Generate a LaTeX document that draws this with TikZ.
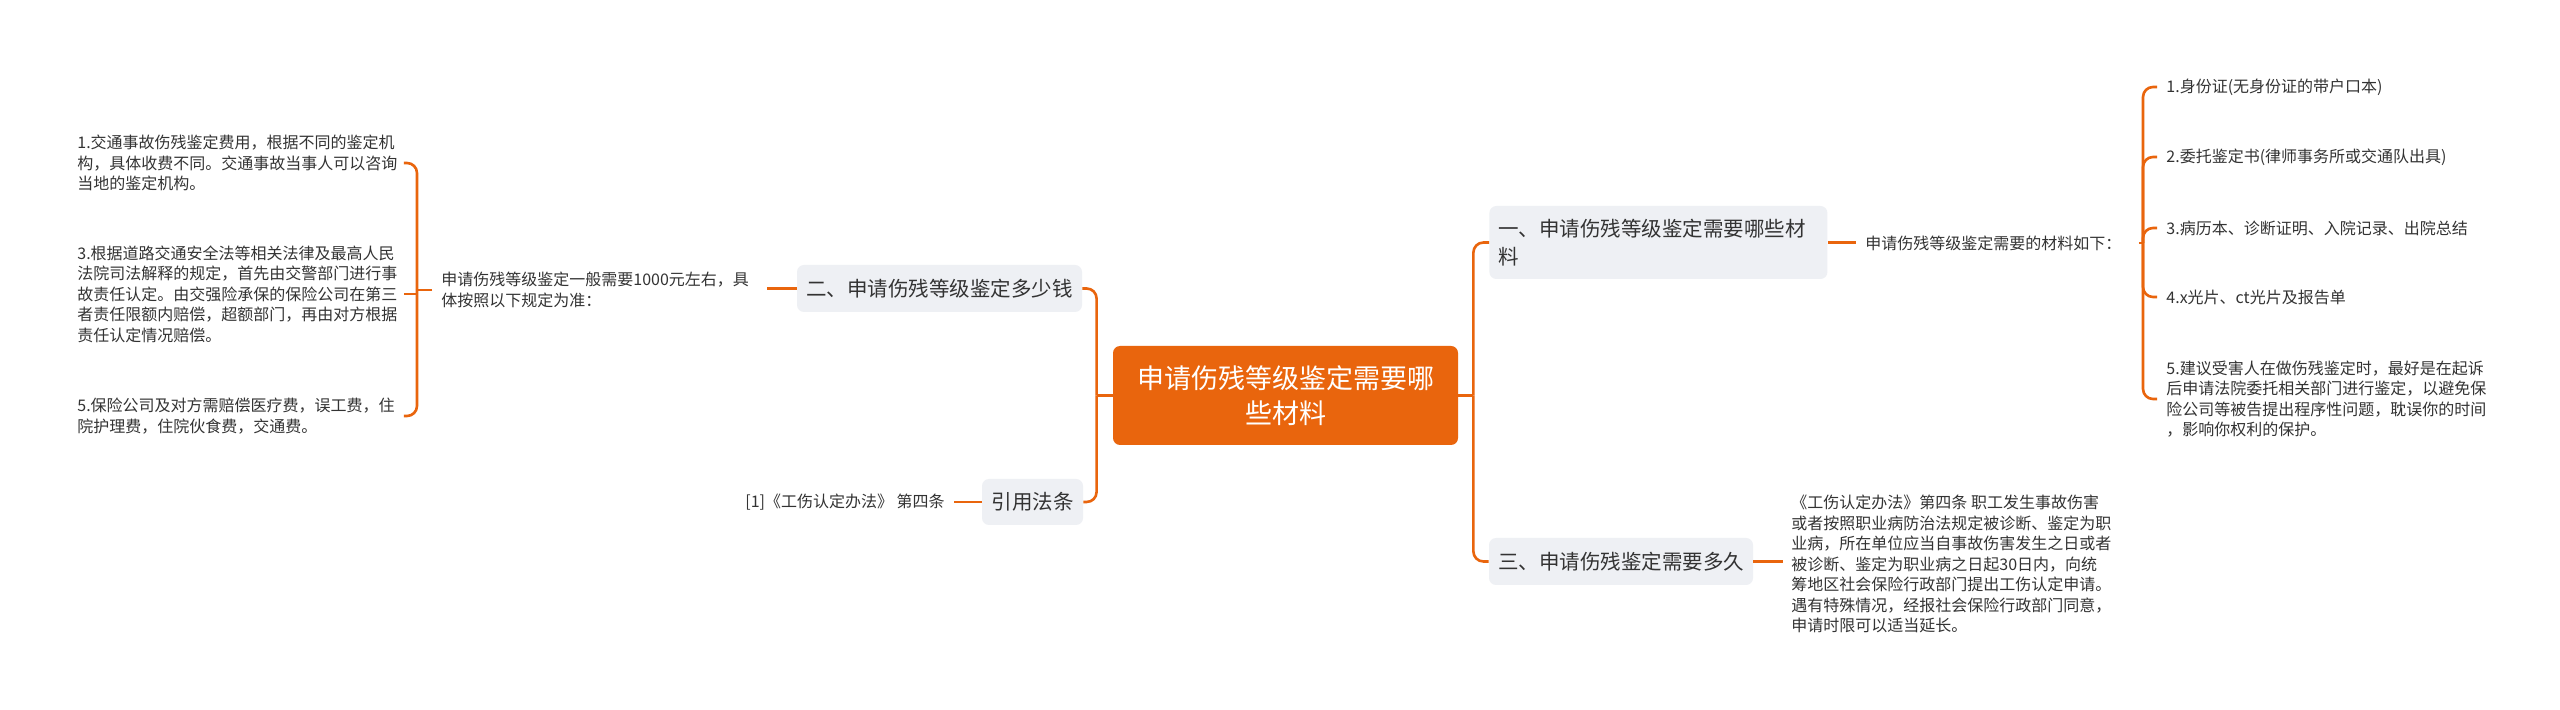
\documentclass[tikz,border=0pt]{standalone}
\usepackage{fontspec}
\setmainfont{Noto Sans CJK SC}
\definecolor{mmorange}{HTML}{E9650D}
\definecolor{mmgray}{HTML}{EEF0F4}
\definecolor{mmtext}{HTML}{333333}
\tikzset{
  conn/.style={draw=mmorange, line width=1.3pt},
  small/.style={font=\fontsize{8}{10.25}\selectfont, text=mmtext, inner sep=0pt, align=left},
  gbox/.style={fill=mmgray, rounded corners=3.5pt, inner sep=0pt, text=mmtext, font=\fontsize{10.25}{14}\selectfont},
  cbox/.style={fill=mmorange, rounded corners=3.5pt, text=white, font=\fontsize{13.5}{17.5}\selectfont, align=center, inner sep=0pt, minimum width=172.5pt, minimum height=49.5pt},
}
\begin{document}
\begin{tikzpicture}[x=0.5pt,y=-0.5pt]
\fill[white] (0,0) rectangle (2560,710);
\useasboundingbox (0,0) rectangle (2560,710);

% center
\node[cbox] (C) at (1285.5,395.5) {申请伤残等级鉴定需要哪\\些材料};

% left branches
\node[gbox, minimum width=142.5pt, minimum height=23.5pt] (Q2) at (939.5,288.5) {二、申请伤残等级鉴定多少钱};
\node[gbox, minimum width=50.5pt, minimum height=23pt] (Cite) at (1032.5,502) {引用法条};
\node[small, anchor=west] (Lp) at (441,290) {申请伤残等级鉴定一般需要1000元左右，具\\体按照以下规定为准：};
\node[small, anchor=west] (Lref) at (745,502) {[1]《工伤认定办法》 第四条};
\node[small, anchor=west, text width=160pt] (L1) at (77,163) {1.交通事故伤残鉴定费用，根据不同的鉴定机\\构，具体收费不同。交通事故当事人可以咨询\\当地的鉴定机构。};
\node[small, anchor=west, text width=160pt] (L3) at (77,294) {3.根据道路交通安全法等相关法律及最高人民\\法院司法解释的规定，首先由交警部门进行事\\故责任认定。由交强险承保的保险公司在第三\\者责任限额内赔偿，超额部门，再由对方根据\\责任认定情况赔偿。};
\node[small, anchor=west, text width=160pt] (L5) at (77,416) {5.保险公司及对方需赔偿医疗费，误工费，住\\院护理费，住院伙食费，交通费。};

% right branches
\node[gbox, anchor=west, text width=160pt, inner xsep=4.5pt, minimum height=36.5pt, align=left] (Q1) at (1489,242.5) {一、申请伤残等级鉴定需要哪些材\\料};
\node[gbox, minimum width=132pt, minimum height=23.5pt] (Q3) at (1621,561.5) {三、申请伤残鉴定需要多久};
\node[small, anchor=west] (Rmat) at (1865,243) {申请伤残等级鉴定需要的材料如下：};
\node[small, anchor=west] (R1) at (2166,87) {1.身份证(无身份证的带户口本)};
\node[small, anchor=west] (R2) at (2166,157) {2.委托鉴定书(律师事务所或交通队出具)};
\node[small, anchor=west] (R3) at (2166,228) {3.病历本、诊断证明、入院记录、出院总结};
\node[small, anchor=west] (R4) at (2166,297) {4.x光片、ct光片及报告单};
\node[small, anchor=west] (R5) at (2166,399) {5.建议受害人在做伤残鉴定时，最好是在起诉\\后申请法院委托相关部门进行鉴定，以避免保\\险公司等被告提出程序性问题，耽误你的时间\\，影响你权利的保护。};
\node[small, anchor=west] (Rlaw) at (1791,564) {《工伤认定办法》第四条 职工发生事故伤害\\或者按照职业病防治法规定被诊断、鉴定为职\\业病，所在单位应当自事故伤害发生之日或者\\被诊断、鉴定为职业病之日起30日内，向统\\筹地区社会保险行政部门提出工伤认定申请。\\遇有特殊情况，经报社会保险行政部门同意，\\申请时限可以适当延长。};

% trunks
\coordinate (lt) at ([xshift=-8pt]C.west);
\draw[conn] (C.west) -- (lt);
\draw[conn, rounded corners=5pt] (lt) |- (Q2.east);
\draw[conn, rounded corners=5pt] (lt) |- (Cite.east);
\coordinate (rt) at ([xshift=7.5pt]C.east);
\draw[conn] (C.east) -- (rt);
\draw[conn, rounded corners=5pt] (rt) |- (Q1.west);
\draw[conn, rounded corners=5pt] (rt) |- (Q3.west);

% left side
\draw[conn, shorten >=9pt] (Q2.west) -- (Q2.west -| Lp.east);
\draw[conn, shorten >=4.5pt] (Cite.west) -- (Cite.west -| Lref.east);
\coordinate (lb) at ([xshift=-12pt]Lp.west);
\draw[conn, shorten <=4.5pt] (Lp.west) -- (lb);
\draw[conn, rounded corners=5pt, shorten >=3pt] (lb) |- (L1.east);
\draw[conn, shorten >=3pt] (lb) |- (L3.east);
\draw[conn, rounded corners=5pt, shorten >=3pt] (lb) |- (L5.east);

% right side
\draw[conn, shorten >=4.5pt] (Q1.east) -- (Q1.east -| Rmat.west);
\path (R1.west |- Rmat.east) ++(-11.5pt,0) coordinate (rb);
\draw[conn, shorten <=8.5pt] (Rmat.east) -- (rb);
\foreach \i in {R1,R2,R3,R4,R5}{
  \draw[conn, rounded corners=5pt, shorten >=4.5pt] (rb) |- (\i.west);
}
\draw[conn, shorten >=4pt] (Q3.east) -- (Q3.east -| Rlaw.west);
\end{tikzpicture}
\end{document}
